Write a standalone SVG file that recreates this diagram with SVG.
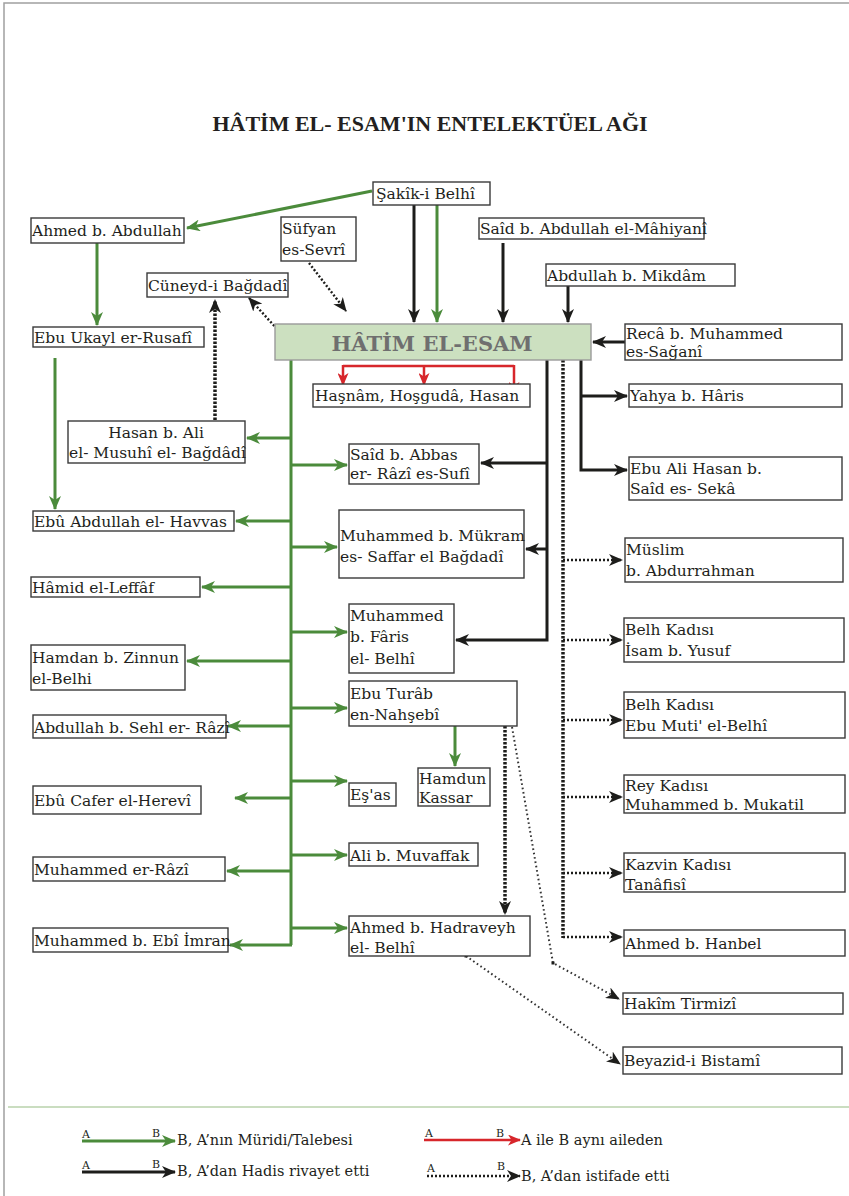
<svg xmlns="http://www.w3.org/2000/svg" width="849" height="1196" viewBox="0 0 849 1196">
<style>
.n rect{fill:#fff;stroke:#3a3a3a;stroke-width:1.4}
.n text,.lg text{font-family:"DejaVu Serif","Liberation Serif",serif;font-size:15.5px;fill:#231f20}
.lg text{font-size:14.5px}
.lg text.s{font-size:11px}
.g{stroke:#4b8b3b;stroke-width:3;fill:none}
.k{stroke:#1d1d1b;stroke-width:3;fill:none}
.r{stroke:#d7262b;stroke-width:2.5;fill:none}
.d{stroke:#1d1d1b;stroke-width:2.4;fill:none;stroke-dasharray:2 2}
.dt{stroke:#1d1d1b;stroke-width:3.5;fill:none;stroke-dasharray:2.5 1.5}
.dn{stroke:#333;stroke-width:2;fill:none;stroke-dasharray:1.6 2.8}
</style>
<defs>
<marker id="ag" markerUnits="userSpaceOnUse" markerWidth="14" markerHeight="12" refX="13" refY="6" orient="auto"><path d="M0,0 L14,6 L0,12 L4,6 z" fill="#4b8b3b"/></marker>
<marker id="ak" markerUnits="userSpaceOnUse" markerWidth="14" markerHeight="12" refX="13" refY="6" orient="auto"><path d="M0,0 L14,6 L0,12 L4,6 z" fill="#1d1d1b"/></marker>
<marker id="ar" markerUnits="userSpaceOnUse" markerWidth="13" markerHeight="11" refX="12" refY="5.5" orient="auto"><path d="M0,0 L13,5.5 L0,11 L3.5,5.5 z" fill="#d7262b"/></marker>
<marker id="ad" markerUnits="userSpaceOnUse" markerWidth="14" markerHeight="12" refX="13" refY="6" orient="auto"><path d="M0,0 L14,6 L0,12 L4,6 z" fill="#1d1d1b"/></marker>
</defs>
<rect width="849" height="1196" fill="#fff"/>
<path d="M4,1196 V3 H849" fill="none" stroke="#a0a0a0" stroke-width="1.5"/>
<line x1="8" y1="1107" x2="849" y2="1107" stroke="#b9d2ab" stroke-width="1.5"/>
<text x="430" y="131" text-anchor="middle" font-family="Liberation Serif,serif" font-weight="bold" font-size="22" fill="#231f20">HÂTİM EL- ESAM'IN ENTELEKTÜEL AĞI</text>

<g id="connectors">
<path class="g" d="M372,191 L187,228" marker-end="url(#ag)"/>
<path class="g" d="M437,205 V322" marker-end="url(#ag)"/>
<path class="g" d="M97,243 V325" marker-end="url(#ag)"/>
<path class="g" d="M55,358 V509" marker-end="url(#ag)"/>
<path class="g" d="M291,360 V945"/>
<path class="g" d="M291,438 H247" marker-end="url(#ag)"/>
<path class="g" d="M291,521 H236" marker-end="url(#ag)"/>
<path class="g" d="M291,587 H202" marker-end="url(#ag)"/>
<path class="g" d="M291,661 H187" marker-end="url(#ag)"/>
<path class="g" d="M291,726 H228" marker-end="url(#ag)"/>
<path class="g" d="M291,798 H235" marker-end="url(#ag)"/>
<path class="g" d="M291,871 H227" marker-end="url(#ag)"/>
<path class="g" d="M292,945 H230" marker-end="url(#ag)"/>
<path class="g" d="M291,465 H347" marker-end="url(#ag)"/>
<path class="g" d="M291,547 H337" marker-end="url(#ag)"/>
<path class="g" d="M291,632 H347" marker-end="url(#ag)"/>
<path class="g" d="M291,708 H347" marker-end="url(#ag)"/>
<path class="g" d="M291,781 H347" marker-end="url(#ag)"/>
<path class="g" d="M291,855 H347" marker-end="url(#ag)"/>
<path class="g" d="M291,928 H347" marker-end="url(#ag)"/>
<path class="g" d="M455,726 V766" marker-end="url(#ag)"/>

<path class="k" d="M414,205 V322" marker-end="url(#ak)"/>
<path class="k" d="M503,243 V322" marker-end="url(#ak)"/>
<path class="k" d="M568,286 V322" marker-end="url(#ak)"/>
<path class="k" d="M625,342 H593" marker-end="url(#ak)"/>
<path class="k" d="M547,360 V640 H456" marker-end="url(#ak)"/>
<path class="k" d="M547,463 H481" marker-end="url(#ak)"/>
<path class="k" d="M547,549 H526" marker-end="url(#ak)"/>
<path class="k" d="M581,360 V470 H627" marker-end="url(#ak)"/>
<path class="k" d="M581,396 H627" marker-end="url(#ak)"/>

<path class="r" d="M343,366 H514"/>
<path class="r" d="M343,365 V385" marker-end="url(#ar)"/>
<path class="r" d="M424,365 V385" marker-end="url(#ar)"/>
<path class="r" d="M514,365 V394" marker-end="url(#ar)"/>

<path class="d" d="M309,263 L346,311" marker-end="url(#ad)"/>
<path class="d" d="M277,329 L249,298" marker-end="url(#ad)"/>
<rect x="275.5" y="328.5" width="3" height="3" fill="#1d1d1b"/>
<path class="dt" d="M215,420 V300" marker-end="url(#ad)"/>
<path class="dt" d="M563,360 V938"/>
<path class="d" d="M563,560 H622" marker-end="url(#ad)"/>
<path class="d" d="M563,640 H622" marker-end="url(#ad)"/>
<path class="d" d="M563,720 H622" marker-end="url(#ad)"/>
<path class="d" d="M563,797 H622" marker-end="url(#ad)"/>
<path class="d" d="M563,873 H622" marker-end="url(#ad)"/>
<path class="d" d="M563,937 H622" marker-end="url(#ad)"/>
<path class="dt" d="M505,726 V914" marker-end="url(#ad)"/>
<path class="dn" d="M512,727 L553,963 L619,999" marker-end="url(#ad)"/>
<rect x="551.5" y="961.5" width="3" height="3" fill="#1d1d1b"/>
<path class="dn" d="M466,956 L620,1064" marker-end="url(#ad)"/>
<rect x="464.5" y="954.5" width="3" height="3" fill="#1d1d1b"/>
</g>

<g id="n-sakik" class="n"><rect x="373" y="182" width="117" height="23"/><text x="376" y="199">Şakîk-i Belhî</text></g>
<g id="n-ahmed-abdullah" class="n"><rect x="31" y="218" width="153" height="25"/><text x="32" y="236">Ahmed b. Abdullah</text></g>
<g id="n-sufyan" class="n"><rect x="281" y="217" width="75" height="44"/><text x="282" y="234">Süfyan</text><text x="282" y="255">es-Sevrî</text></g>
<g id="n-said-mahiyani" class="n"><rect x="479" y="218" width="225" height="21"/><text x="480" y="234">Saîd b. Abdullah el-Mâhiyanî</text></g>
<g id="n-mikdam" class="n"><rect x="546" y="264" width="189" height="22"/><text x="547" y="281">Abdullah b. Mikdâm</text></g>
<g id="n-cuneyd" class="n"><rect x="147" y="273" width="141" height="24"/><text x="148" y="291">Cüneyd-i Bağdadî</text></g>
<g id="n-ebu-ukayl" class="n"><rect x="33" y="327" width="171" height="20"/><text x="34" y="343">Ebu Ukayl er-Rusafî</text></g>
<g id="n-hatim"><rect x="275" y="324" width="316" height="36" fill="#cce0c0" stroke="#9a9a9a" stroke-width="1.4"/><text x="432" y="351" text-anchor="middle" font-family="DejaVu Serif,Liberation Serif,serif" font-weight="bold" font-size="21" fill="#6f6f6f">HÂTİM EL-ESAM</text></g>
<g id="n-reca" class="n"><rect x="625" y="324" width="217" height="36"/><text x="626" y="339">Recâ b. Muhammed</text><text x="626" y="357">es-Sağanî</text></g>
<g id="n-hasnam" class="n"><rect x="313" y="384" width="217" height="23"/><text x="315" y="401">Haşnâm, Hoşgudâ, Hasan</text></g>
<g id="n-yahya" class="n"><rect x="629" y="384" width="213" height="23"/><text x="630" y="401">Yahya b. Hâris</text></g>
<g id="n-hasan-ali" class="n"><rect x="68" y="421" width="177" height="42"/><text x="156" y="438" text-anchor="middle">Hasan b. Ali</text><text x="69" y="458">el- Musuhî el- Bağdâdî</text></g>
<g id="n-said-abbas" class="n"><rect x="349" y="444" width="130" height="40"/><text x="350" y="460">Saîd b. Abbas</text><text x="350" y="479">er- Râzî es-Sufî</text></g>
<g id="n-ebu-ali" class="n"><rect x="629" y="457" width="213" height="43"/><text x="630" y="474">Ebu Ali Hasan b.</text><text x="630" y="494">Saîd es- Sekâ</text></g>
<g id="n-havvas" class="n"><rect x="33" y="511" width="201" height="20"/><text x="34" y="527">Ebû Abdullah el- Havvas</text></g>
<g id="n-mukram" class="n"><rect x="339" y="510" width="185" height="68"/><text x="340" y="541">Muhammed b. Mükram</text><text x="340" y="562">es- Saffar el Bağdadî</text></g>
<g id="n-muslim" class="n"><rect x="625" y="538" width="218" height="44"/><text x="626" y="555">Müslim</text><text x="626" y="576">b. Abdurrahman</text></g>
<g id="n-hamid" class="n"><rect x="31" y="577" width="169" height="20"/><text x="32" y="593">Hâmid el-Leffâf</text></g>
<g id="n-isam" class="n"><rect x="624" y="618" width="220" height="44"/><text x="625" y="635">Belh Kadısı</text><text x="625" y="656">İsam b. Yusuf</text></g>
<g id="n-faris" class="n"><rect x="349" y="604" width="105" height="69"/><text x="350" y="621">Muhammed</text><text x="350" y="642">b. Fâris</text><text x="350" y="664">el- Belhî</text></g>
<g id="n-hamdan" class="n"><rect x="31" y="645" width="154" height="45"/><text x="32" y="663">Hamdan b. Zinnun</text><text x="32" y="684">el-Belhi</text></g>
<g id="n-ebu-turab" class="n"><rect x="349" y="681" width="168" height="45"/><text x="350" y="699">Ebu Turâb</text><text x="350" y="720">en-Nahşebî</text></g>
<g id="n-ebu-muti" class="n"><rect x="624" y="692" width="221" height="46"/><text x="625" y="710">Belh Kadısı</text><text x="625" y="731">Ebu Muti' el-Belhî</text></g>
<g id="n-sehl" class="n"><rect x="33" y="715" width="193" height="23"/><text x="34" y="733">Abdullah b. Sehl er- Râzî</text></g>
<g id="n-hamdun" class="n"><rect x="418" y="768" width="72" height="38"/><text x="419" y="784">Hamdun</text><text x="419" y="803">Kassar</text></g>
<g id="n-esas" class="n"><rect x="349" y="783" width="47" height="23"/><text x="350" y="800">Eş'as</text></g>
<g id="n-mukatil" class="n"><rect x="624" y="775" width="221" height="38"/><text x="625" y="791">Rey Kadısı</text><text x="625" y="810">Muhammed b. Mukatil</text></g>
<g id="n-herevi" class="n"><rect x="33" y="786" width="168" height="28"/><text x="34" y="806">Ebû Cafer el-Herevî</text></g>
<g id="n-muvaffak" class="n"><rect x="349" y="843" width="129" height="23"/><text x="350" y="861">Ali b. Muvaffak</text></g>
<g id="n-razi" class="n"><rect x="33" y="857" width="192" height="24"/><text x="34" y="875">Muhammed er-Râzî</text></g>
<g id="n-tanafisi" class="n"><rect x="624" y="853" width="221" height="39"/><text x="625" y="870">Kazvin Kadısı</text><text x="625" y="890">Tanâfisî</text></g>
<g id="n-hadraveyh" class="n"><rect x="349" y="916" width="181" height="40"/><text x="350" y="933">Ahmed b. Hadraveyh</text><text x="350" y="953">el- Belhî</text></g>
<g id="n-imran" class="n"><rect x="33" y="928" width="195" height="24"/><text x="34" y="946">Muhammed b. Ebî İmran</text></g>
<g id="n-hanbel" class="n"><rect x="624" y="930" width="221" height="26"/><text x="625" y="949">Ahmed b. Hanbel</text></g>
<g id="n-tirmizi" class="n"><rect x="623" y="993" width="220" height="21"/><text x="624" y="1009">Hakîm Tirmizî</text></g>
<g id="n-bistami" class="n"><rect x="623" y="1047" width="219" height="27"/><text x="624" y="1066">Beyazid-i Bistamî</text></g>

<g id="legend" class="lg">
<text class="s" x="82" y="1138">A</text><text class="s" x="152" y="1137">B</text>
<path class="g" d="M82,1141 H175" marker-end="url(#ag)"/>
<text x="177" y="1145">B, A’nın Müridi/Talebesi</text>
<text class="s" x="425" y="1137">A</text><text class="s" x="496" y="1137">B</text>
<path class="r" d="M424,1140 H520" marker-end="url(#ar)"/>
<text x="521" y="1145">A ile B aynı aileden</text>
<text class="s" x="82" y="1169">A</text><text class="s" x="152" y="1168">B</text>
<path class="k" d="M82,1172 H175" marker-end="url(#ak)"/>
<text x="177" y="1176">B, A’dan Hadis rivayet etti</text>
<text class="s" x="427" y="1172">A</text><text class="s" x="497" y="1170">B</text>
<path class="d" d="M427,1176 H520" marker-end="url(#ad)"/>
<text x="521" y="1181">B, A’dan istifade etti</text>
</g>
</svg>
